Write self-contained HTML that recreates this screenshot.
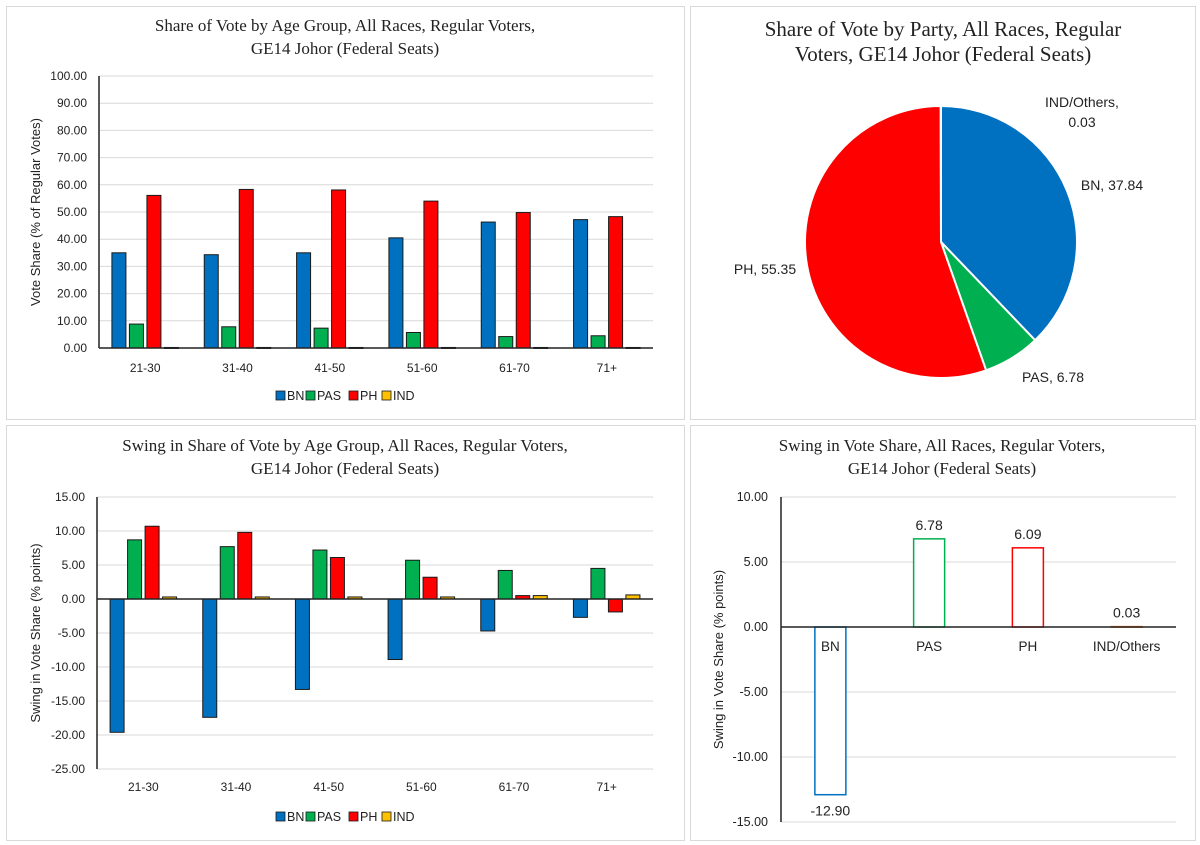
<!DOCTYPE html>
<html><head><meta charset="utf-8">
<style>
body{margin:0;background:#fff;width:1200px;height:845px;overflow:hidden;font-family:"Liberation Sans",sans-serif}
svg{display:block}
.t{font-family:"Liberation Serif",serif;fill:#222}
.l{fill:#222}
</style></head><body>
<svg id="s" width="1200" height="845">
<rect x="6.5" y="6.5" width="678" height="413" fill="#fff" stroke="#d9d9d9"/>
<rect x="690.5" y="6.5" width="505" height="413" fill="#fff" stroke="#d9d9d9"/>
<rect x="6.5" y="425.5" width="678" height="415" fill="#fff" stroke="#d9d9d9"/>
<rect x="690.5" y="425.5" width="505" height="415" fill="#fff" stroke="#d9d9d9"/>
<text class="t" x="345" y="31" font-size="17" text-anchor="middle">Share of Vote by Age Group, All Races, Regular Voters,</text>
<text class="t" x="345" y="54" font-size="17" text-anchor="middle">GE14 Johor (Federal Seats)</text>
<text class="t" x="943" y="36" font-size="21" text-anchor="middle">Share of Vote by Party, All Races, Regular</text>
<text class="t" x="943" y="61" font-size="21" text-anchor="middle">Voters, GE14 Johor (Federal Seats)</text>
<text class="t" x="345" y="451" font-size="17" text-anchor="middle">Swing in Share of Vote by Age Group, All Races, Regular Voters,</text>
<text class="t" x="345" y="474" font-size="17" text-anchor="middle">GE14 Johor (Federal Seats)</text>
<text class="t" x="942" y="451" font-size="17" text-anchor="middle">Swing in Vote Share, All Races, Regular Voters,</text>
<text class="t" x="942" y="474" font-size="17" text-anchor="middle">GE14 Johor (Federal Seats)</text>
</svg>
<script>
const ages=["21-30","31-40","41-50","51-60","61-70","71+"];
const seriesNames=["BN","PAS","PH","IND"];
const shareBN=[35.0,34.3,35.0,40.5,46.3,47.2];
const sharePAS=[8.8,7.8,7.3,5.7,4.2,4.5];
const sharePH=[56.1,58.3,58.1,54.0,49.8,48.3];
const shareIND=[0.2,0.2,0.2,0.2,0.2,0.2];
const shareTicks=["0.00","10.00","20.00","30.00","40.00","50.00","60.00","70.00","80.00","90.00","100.00"];
const swingBN=[-19.6,-17.4,-13.3,-8.9,-4.7,-2.7];
const swingPAS=[8.7,7.7,7.2,5.7,4.2,4.5];
const swingPH=[10.7,9.8,6.1,3.2,0.5,-1.9];
const swingIND=[0.3,0.3,0.3,0.3,0.5,0.6];
const swingTicks=["-25.00","-20.00","-15.00","-10.00","-5.00","0.00","5.00","10.00","15.00"];
const pieLabels=["BN","PAS","PH","IND/Others"];
const pieValues=[37.84,6.78,55.35,0.03];
const partyLabels=["BN","PAS","PH","IND/Others"];
const partySwing=[-12.90,6.78,6.09,0.03];
const partyTicks=["-15.00","-10.00","-5.00","0.00","5.00","10.00"];

const NS="http://www.w3.org/2000/svg";
const svg=document.getElementById('s');
const colors=["#0070c0","#00b050","#ff0000","#ffc000"];
function mk(tag,attrs,parent){const e=document.createElementNS(NS,tag);for(const k in attrs)e.setAttribute(k,attrs[k]);(parent||svg).appendChild(e);return e;}
function txt(x,y,s,anchor,cls,extra){const e=mk('text',Object.assign({x:x,y:y,'text-anchor':anchor,class:cls||'l','font-size':'12'},extra||{}));e.textContent=s;return e;}

function groupChart(id,cfg){
  const g=mk('g',{});
  
  
  const ys=v=>cfg.y0+(v-cfg.min)/(cfg.max-cfg.min)*(cfg.y1-cfg.y0);
  cfg.ticks.forEach(t=>{const v=parseFloat(t),y=ys(v);
    const gl=mk('line',{x1:cfg.x0,x2:cfg.x1,y1:y,y2:y,stroke:'#d9d9d9','stroke-width':1},g);
    
    
    const tl=txt(cfg.x0-12,y+4,t,'end','l',{});g.appendChild(tl);
    
    
  });
  const gw=(cfg.x1-cfg.x0)/cfg.cats.length;
  const bw=14,gap=3.5;
  cfg.cats.forEach((c,i)=>{
    const cx=cfg.x0+gw*(i+0.5);
    cfg.series.forEach((arr,j)=>{
      const v=arr[i];const x=cx-(2*bw+1.5*gap)+j*(bw+gap);
      const y=Math.min(ys(v),ys(0)),h=Math.abs(ys(v)-ys(0));
      const b=mk('rect',{x:x,y:y,width:bw,height:Math.max(h,1),fill:colors[j],stroke:'#1a1a1a','stroke-width':1},g);
      
      
    });
    const cl=txt(cx,cfg.catY,c,'middle','l');g.appendChild(cl);
    
    
  });
  const ax=mk('line',{x1:cfg.x0,x2:cfg.x0,y1:cfg.y0,y2:cfg.y1,stroke:'#222','stroke-width':1.5},g);
  
  
  const zx=mk('line',{x1:cfg.x0,x2:cfg.x1,y1:ys(0),y2:ys(0),stroke:'#222','stroke-width':1.5},g);
  
  
  const yt=txt(0,0,cfg.ytitle,'middle','l',{transform:`translate(${cfg.ytx},${(cfg.y0+cfg.y1)/2}) rotate(-90)`,'font-size':'13'});g.appendChild(yt);
  
  
  const widths=[30,43,33,32];let lx=cfg.legX;
  seriesNames.forEach((n,j)=>{
    const r=mk('rect',{x:lx,y:cfg.legY-9,width:9,height:9,fill:colors[j],stroke:'#1a1a1a','stroke-width':0.8},g);
    
    
    const t=txt(lx+11,cfg.legY,n,'start','l',{'font-size':'12.5'});g.appendChild(t);
    
    
    lx+=widths[j];
  });
}
groupChart('share-by-age-chart',{x0:99,x1:653,y0:348,y1:76,min:0,max:100,ticks:shareTicks,cats:ages,series:[shareBN,sharePAS,sharePH,shareIND],catY:372,ytitle:'Vote Share (% of Regular Votes)',ytx:40,legX:276,legY:400});
groupChart('swing-by-age-chart',{x0:97,x1:653,y0:769,y1:497,min:-25,max:15,ticks:swingTicks,cats:ages,series:[swingBN,swingPAS,swingPH,swingIND],catY:791,ytitle:'Swing in Vote Share (% points)',ytx:40,legX:276,legY:821});

(function(){
  const g=mk('g',{});
  
  
  const cx=941,cy=242,r=136;
  const tot=pieValues.reduce((a,b)=>a+b,0);
  let a0=-Math.PI/2;
  const pc=["#0070c0","#00b050","#ff0000","#ffc000"];
  pieValues.forEach((v,i)=>{
    const a1=a0+v/tot*2*Math.PI;
    const large=(a1-a0)>Math.PI?1:0;
    const p=mk('path',{d:`M${cx},${cy}L${cx+r*Math.cos(a0)},${cy+r*Math.sin(a0)}A${r},${r} 0 ${large} 1 ${cx+r*Math.cos(a1)},${cy+r*Math.sin(a1)}Z`,fill:pc[i],stroke:'#fff','stroke-width':2},g);
    
    
    a0=a1;
  });
  const labs=[[1112,190,'BN, '+pieValues[0].toFixed(2),'middle'],[1053,382,'PAS, '+pieValues[1].toFixed(2),'middle'],[765,274,'PH, '+pieValues[2].toFixed(2),'middle']];
  labs.forEach(l=>{const t=txt(l[0],l[1],l[2],l[3],'l',{'font-size':'14'});g.appendChild(t);
    
    });
  const t1=txt(1082,107,pieLabels[3]+',','middle','l',{'font-size':'14'});g.appendChild(t1);
  
  
  const t2=txt(1082,127,pieValues[3].toFixed(2),'middle','l',{'font-size':'14'});g.appendChild(t2);
  
  
})();

(function(){
  const g=mk('g',{});
  
  
  const x0=781,x1=1176,y0=822,y1=497,min=-15,max=10;
  const ys=v=>y0+(v-min)/(max-min)*(y1-y0);
  partyTicks.forEach(t=>{const y=ys(parseFloat(t));
    const gl=mk('line',{x1:x0,x2:x1,y1:y,y2:y,stroke:'#d9d9d9'},g);
    
    
    const tl=txt(768,y+4,t,'end','l',{'font-size':'12.5'});g.appendChild(tl);
    
    
  });
  const pc=["#0070c0","#00b050","#ff0000","#ed7d31"];
  const gw=(x1-x0)/partyLabels.length,bw=31;
  partyLabels.forEach((c,i)=>{
    const cx=x0+gw*(i+0.5),v=partySwing[i];
    const y=Math.min(ys(v),ys(0)),h=Math.abs(ys(v)-ys(0));
    const b=mk('rect',{x:cx-bw/2,y:y,width:bw,height:Math.max(h,0.5),fill:'#fff',stroke:pc[i],'stroke-width':1.5},g);
    
    
    const vl=txt(cx,v<0?ys(v)+21:ys(v)-9,v.toFixed(2),'middle','l',{'font-size':'14'});g.appendChild(vl);
    
    
    const cl=txt(cx,651,c,'middle','l',{'font-size':'13.5'});g.appendChild(cl);
    
    
  });
  const ax=mk('line',{x1:x0,x2:x0,y1:y0,y2:y1,stroke:'#222','stroke-width':1.5},g);
  
  
  const zx=mk('line',{x1:x0,x2:x1,y1:ys(0),y2:ys(0),stroke:'#222','stroke-width':1.5},g);
  
  
  const yt=txt(0,0,'Swing in Vote Share (% points)','middle','l',{transform:`translate(723,${(y0+y1)/2}) rotate(-90)`,'font-size':'13'});g.appendChild(yt);
  
  
})();
</script>
</body></html>
